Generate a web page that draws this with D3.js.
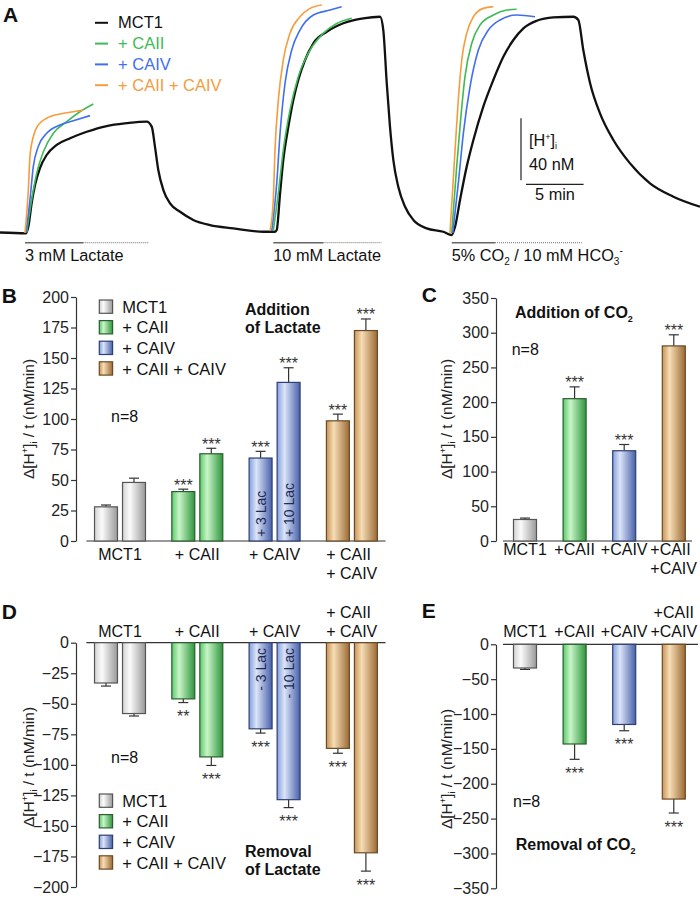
<!DOCTYPE html>
<html><head><meta charset="utf-8">
<script src="https://cdn.jsdelivr.net/npm/d3@7"></script>
<style>
body{margin:0;background:#fff}
svg{display:block;font-family:"Liberation Sans",Arial,sans-serif}
</style>
</head><body>
<svg id="c" width="700" height="900"></svg>
<script>
// ================= DATA =================
// Panel A traces: [time (min), Δ[H+]i (nM)]
const traceNames = ["MCT1", "+ CAII", "+ CAIV", "+ CAII + CAIV"];
const traceColors = ["#111111", "#3dbb55", "#3f6ef0", "#f59c3c"];
const traceMCT1 = [[0,0],[2.26,-0.5],[2.46,3.7],[2.75,19],[3.04,30.6],[3.47,41.6],[4.05,50],[4.92,56.5],[6.08,60.8],[7.53,65],[9.26,68.7],[11.0,70.5],[12.73,71.5],[13.17,68.3],[13.45,55.4],[13.74,40.3],[14.18,27.4],[14.76,18.8],[15.63,13.4],[16.78,8.1],[18.23,4.8],[20.25,2.7],[22.86,0.5],[23.87,0.5],[24.02,1.6],[24.31,25.3],[24.59,46.8],[25.03,68.3],[25.46,85.5],[25.89,98.4],[26.48,111.3],[27.2,122.1],[28.36,129.5],[29.8,135],[31.54,138.2],[32.99,139.2],[33.27,130.6],[33.57,96.3],[33.85,68.3],[34.14,46.8],[34.57,29.5],[35.16,16.6],[35.88,8.1],[37.04,2.7],[38.48,0.5],[39.21,-1.6],[39.5,3.7],[39.93,21],[40.51,42.5],[41.09,59.7],[41.95,81.2],[42.82,98.4],[43.69,113.4],[44.56,124.2],[45.43,131.7],[46.59,136.6],[48.03,138.8],[49.77,139.2],[50.2,137.1],[50.63,117.7],[51.22,96.3],[52.08,76.9],[53.24,59.7],[54.69,44.6],[56.42,31.7],[58.45,23.1],[60.76,16.6]];
const traceCAII = [
  [[2.32,0],[2.75,21],[3.19,38.2],[3.76,52.1],[4.63,64],[5.79,71.5],[6.94,77.9],[8.1,82.9]],
  [[23.72,1],[24.16,25.5],[24.59,53.2],[25.17,79],[25.89,100.5],[26.91,117.7],[28.06,128.5],[29.23,134.8],[30.53,138.2]],
  [[39.21,-0.3],[39.64,42.5],[39.93,68.3],[40.36,100.5],[40.95,122.1],[41.67,133.9],[42.82,140.3],[43.98,143.5],[44.85,144]]
];
const traceCAIV = [
  [[2.26,0],[2.6,21],[2.89,42.5],[3.32,55.4],[4.05,64],[5.21,69.4],[6.36,72.1],[7.81,75.4]],
  [[23.59,1],[24.02,31.7],[24.31,64],[24.74,96.3],[25.32,117.7],[26.04,130.6],[27.2,140.3],[28.65,143.5],[29.66,145.7]],
  [[39.3,-0.3],[39.78,31.7],[40.22,64],[40.8,94.1],[41.52,117.7],[42.39,130.6],[43.4,137.1],[44.85,140.3],[46.44,139.2]]
];
const traceCAIIIV = [
  [[2.17,-0.3],[2.46,27.4],[2.6,48.9],[2.89,61.8],[3.32,69.4],[4.05,73.7],[5.21,76.5],[6.36,77.9],[7.23,79]],
  [[23.44,1],[23.72,21],[23.87,53.2],[24.16,85.5],[24.59,111.3],[25.17,128.5],[26.04,139.2],[26.91,144.6],[27.93,146.8]],
  [[39.06,-0.3],[39.5,53.2],[39.78,85.5],[40.08,111.3],[40.51,128.5],[41.09,139.2],[41.95,144.6],[42.82,145.7]]
];
const stimLabels = ["3 mM Lactate", "10 mM Lactate", "5% CO2 / 10 mM HCO3-"];
const stimStart = [2.17, 23.72, 39.21];
const stimSolidEnd = [7.23, 28.07, 42.97];
const stimEnd = [12.87, 33.13, 50.5];
const scaleBarNM = 40, scaleBarMin = 5;

// Bar panels
const groups = ["MCT1", "+ CAII", "+ CAIV", "+ CAII + CAIV"];
const groupLabelsB = [["MCT1"], ["+ CAII"], ["+ CAIV"], ["+ CAII", "+ CAIV"]];
const groupLabelsC = [["MCT1"], ["+CAII"], ["+CAIV"], ["+CAII", "+CAIV"]];
const pulses = ["3 mM", "10 mM"];
// B: addition of lactate
const addLac3 = [28, 40.5, 68, 98.5];
const addLac3Err = [1.5, 2, 5.5, 5.5];
const addLac3Sig = ["", "***", "***", "***"];
const addLac10 = [48, 71.5, 130, 172.5];
const addLac10Err = [3.5, 4.5, 12, 9.5];
const addLac10Sig = ["", "***", "***", "***"];
// C: addition of CO2
const addCO2 = [31, 205, 130, 281];
const addCO2Err = [2, 17, 9, 16];
const addCO2Sig = ["", "***", "***", "***"];
// D: removal of lactate
const remLac3 = [-33, -46, -70.5, -86.5];
const remLac3Err = [2.5, 3, 3.5, 4];
const remLac3Sig = ["", "**", "***", "***"];
const remLac10 = [-58, -93.5, -128.5, -172];
const remLac10Err = [2, 7, 6.5, 15];
const remLac10Sig = ["", "***", "***", "***"];
// E: removal of CO2
const remCO2 = [-34, -143, -115, -222];
const remCO2Err = [2, 22, 9, 20];
const remCO2Sig = ["", "***", "***", "***"];

const ticksB = d3.range(0, 201, 25);
const ticksC = d3.range(0, 351, 50);
const ticksD = d3.range(-200, 1, 25);
const ticksE = d3.range(-350, 1, 50);

// ================= DRAW =================
const svg = d3.select("#c");
const FONT = 16;
const keys = ["grey", "green", "blue", "tan"];
const gradStops = {
  grey: ["#d2d2d2", "#fbfbfb", "#999999"],
  green: ["#5acb68", "#c9f4c9", "#2e963c"],
  blue: ["#86a0de", "#dbe4f8", "#4760a8"],
  tan: ["#c89456", "#f7ddb6", "#9a6a34"]
};
const strokeCol = {grey: "#555", green: "#2b5e30", blue: "#2f3f72", tan: "#6b4a25"};
const defs = svg.append("defs");
keys.forEach(k => {
  const lg = defs.append("linearGradient").attr("id", "g-" + k).attr("x1", 0).attr("x2", 1).attr("y1", 0).attr("y2", 0);
  [0, 0.32, 1].forEach((o, i) => lg.append("stop").attr("offset", o).attr("stop-color", gradStops[k][i]));
});

function panelLetter(t, x, y) {
  svg.append("text").attr("x", x).attr("y", y).attr("font-size", 21).attr("font-weight", "bold").attr("fill", "#111").text(t);
}

// ---------- Panel A ----------
const xA = d3.scaleLinear().domain([0, 60.76]).range([0, 700]);
const yA = d3.scaleLinear().domain([0, 40]).range([232.5, 170.5]);
const lineA = d3.line().x(d => xA(d[0])).y(d => yA(d[1])).curve(d3.curveMonotoneX);
const gA = svg.append("g");
gA.append("path").datum(traceMCT1).attr("d", lineA).attr("fill", "none").attr("stroke", traceColors[0]).attr("stroke-width", 2.3);
[[traceCAII, 1], [traceCAIV, 2], [traceCAIIIV, 3]].forEach(([segs, ci]) => {
  segs.forEach(s => gA.append("path").datum(s).attr("d", lineA).attr("fill", "none").attr("stroke", traceColors[ci]).attr("stroke-width", 1.6));
});
// legend A
traceNames.forEach((n, i) => {
  const y = 28.3 + i * 20.8;
  gA.append("line").attr("x1", 95).attr("x2", 108).attr("y1", y - 5.5).attr("y2", y - 5.5).attr("stroke", traceColors[i]).attr("stroke-width", 2);
  gA.append("text").attr("x", 118).attr("y", y).attr("font-size", 16.5).attr("fill", traceColors[i]).text(n);
});
// stimulus bars
stimLabels.forEach((lab, i) => {
  const yb = 242.7;
  gA.append("line").attr("x1", xA(stimStart[i])).attr("x2", xA(stimSolidEnd[i])).attr("y1", yb).attr("y2", yb).attr("stroke", "#666").attr("stroke-width", 1.6);
  gA.append("line").attr("x1", xA(stimSolidEnd[i])).attr("x2", xA(stimEnd[i])).attr("y1", yb).attr("y2", yb).attr("stroke", "#888").attr("stroke-width", 1.2).attr("stroke-dasharray", "1,1");
  const t = gA.append("text").attr("x", xA(stimStart[i])).attr("y", 260.5).attr("font-size", 16.3).attr("fill", "#111");
  if (lab.indexOf("CO2") >= 0) {
    t.append("tspan").text("5% CO");
    t.append("tspan").attr("font-size", 10).attr("dy", 4).text("2");
    t.append("tspan").attr("dy", -4).text(" / 10 mM HCO");
    t.append("tspan").attr("font-size", 10).attr("dy", 4).text("3");
    t.append("tspan").attr("font-size", 10).attr("dy", -11).text("-");
  } else t.text(lab);
});
// scale bar
{
  const top = 118.3;
  const len = yA(0) - yA(scaleBarNM);
  gA.append("line").attr("x1", 521).attr("x2", 521).attr("y1", top).attr("y2", top + len).attr("stroke", "#222").attr("stroke-width", 1.2);
  const hx = 526, hy = 184.3;
  gA.append("line").attr("x1", hx).attr("x2", hx + xA(scaleBarMin) - xA(0)).attr("y1", hy).attr("y2", hy).attr("stroke", "#222").attr("stroke-width", 1.2);
  const t1 = gA.append("text").attr("x", 529).attr("y", 146).attr("font-size", 16.3).attr("fill", "#111");
  t1.append("tspan").text("[H");
  t1.append("tspan").attr("font-size", 9).attr("dy", -6).text("+");
  t1.append("tspan").attr("dy", 6).text("]");
  t1.append("tspan").attr("font-size", 9).attr("dy", 3).text("i");
  gA.append("text").attr("x", 529).attr("y", 170).attr("font-size", 16.3).attr("fill", "#111").text(scaleBarNM + " nM");
  gA.append("text").attr("x", 555).attr("y", 200).attr("font-size", 16.3).attr("text-anchor", "middle").attr("fill", "#111").text(scaleBarMin + " min");
}
panelLetter("A", 3, 21.7);

// ---------- helpers for bar panels ----------
function yTitle(g, x, y) {
  const t = g.append("text").attr("transform", `translate(${x},${y}) rotate(-90)`).attr("text-anchor", "middle").attr("font-size", 15.5).attr("fill", "#222");
  t.append("tspan").text("Δ[H");
  t.append("tspan").attr("font-size", 9).attr("dy", -6).text("+");
  t.append("tspan").attr("dy", 6).text("]");
  t.append("tspan").attr("font-size", 9).attr("dy", 3).text("i");
  t.append("tspan").attr("dy", -3).text(" / t (nM/min)");
}
function yAxis(g, x, y, ticks) {
  const ax = g.append("g").attr("transform", `translate(${x},0)`)
    .call(d3.axisLeft(y).tickValues(ticks).tickSize(5).tickSizeOuter(0).tickPadding(2).tickFormat(d3.format("d")));
  ax.select(".domain").attr("stroke", "#333").attr("stroke-width", 1.2);
  ax.selectAll(".tick line").attr("stroke", "#333").attr("stroke-width", 1.2);
  ax.selectAll(".tick text").attr("font-size", FONT).attr("fill", "#222").attr("font-family", '"Liberation Sans",Arial,sans-serif');
}
function drawBar(g, x, w, y, v, e, key, sig) {
  const y0 = y(0), yv = y(v);
  const ye = y(v + Math.sign(v) * e);
  const cx = x + w / 2;
  g.append("line").attr("x1", cx).attr("x2", cx).attr("y1", yv).attr("y2", ye).attr("stroke", "#333").attr("stroke-width", 1.2);
  g.append("line").attr("x1", cx - 5).attr("x2", cx + 5).attr("y1", ye).attr("y2", ye).attr("stroke", "#333").attr("stroke-width", 1.2);
  g.append("rect").attr("x", x).attr("y", Math.min(y0, yv)).attr("width", w).attr("height", Math.abs(yv - y0))
    .attr("fill", `url(#g-${key})`).attr("stroke", strokeCol[key]).attr("stroke-width", 1.2);
  if (sig) {
    g.append("text").attr("x", cx).attr("y", v > 0 ? ye + 1.5 : ye + 19.5).attr("text-anchor", "middle")
      .attr("font-size", 16).attr("fill", "#333").text(sig);
  }
}
function groupLabel(g, cx, yBase, lines, leftAlign) {
  const t = g.append("text").attr("font-size", FONT).attr("fill", "#111");
  lines.forEach((l, i) => t.append("tspan").attr("x", cx).attr("y", yBase + i * 19).text(l));
  if (leftAlign && lines.length > 1) {
    const w = t.node().getBBox().width;
    t.selectAll("tspan").attr("x", cx - w / 2);
  } else {
    t.attr("text-anchor", "middle");
  }
}
function legendBox(g, x, yTop) {
  groups.forEach((n, i) => {
    const y = yTop + i * 20.6;
    g.append("rect").attr("x", x).attr("y", y).attr("width", 13.3).attr("height", 13.3)
      .attr("fill", `url(#g-${keys[i]})`).attr("stroke", strokeCol[keys[i]]).attr("stroke-width", 1.2);
    g.append("text").attr("x", x + 23).attr("y", y + 12.7).attr("font-size", 16.5).attr("fill", "#111").text(n);
  });
}
function boldLines(g, x, y, lines, sub) {
  lines.forEach((l, i) => {
    const t = g.append("text").attr("x", x).attr("y", y + i * 18.3).attr("font-size", 16).attr("font-weight", "bold").attr("fill", "#111");
    if (sub && i === lines.length - 1) {
      t.append("tspan").text(l);
      t.append("tspan").attr("font-size", 9).attr("dy", 4).text(sub);
    } else t.text(l);
  });
}
function innerLabel(g, cx, y, txt, anchor) {
  g.append("text").attr("transform", `translate(${cx + 5},${y}) rotate(-90)`).attr("text-anchor", anchor)
    .attr("font-size", 14).attr("fill", "#1c2a55").text(txt);
}

// ---------- Panel B ----------
const xG = d3.scaleBand().domain(groups).range([81.35, 390.55]);
const xS = d3.scaleBand().domain(pulses).range([0, xG.bandwidth()]).paddingInner(0.18).paddingOuter(0.47);
const yB = d3.scaleLinear().domain([0, 200]).range([541, 297]);
const gB = svg.append("g");
yAxis(gB, 76, yB, ticksB);
gB.append("line").attr("x1", xG.range()[0] + 5).attr("x2", xG.range()[1] - 5).attr("y1", yB(0)).attr("y2", yB(0)).attr("stroke", "#333").attr("stroke-width", 1.2);
groups.forEach((grp, i) => {
  drawBar(gB, xG(grp) + xS(pulses[0]), xS.bandwidth(), yB, addLac3[i], addLac3Err[i], keys[i], addLac3Sig[i]);
  drawBar(gB, xG(grp) + xS(pulses[1]), xS.bandwidth(), yB, addLac10[i], addLac10Err[i], keys[i], addLac10Sig[i]);
  groupLabel(gB, xG(grp) + xG.bandwidth() / 2, 560, groupLabelsB[i], true);
});
innerLabel(gB, xG(groups[2]) + xS(pulses[0]) + xS.bandwidth() / 2, 537, "+ 3 Lac", "start");
innerLabel(gB, xG(groups[2]) + xS(pulses[1]) + xS.bandwidth() / 2, 537, "+ 10 Lac", "start");
legendBox(gB, 99.3, 300);
boldLines(gB, 245, 315, ["Addition", "of Lactate"]);
gB.append("text").attr("x", 111).attr("y", 421.7).attr("font-size", FONT).attr("fill", "#111").text("n=8");
yTitle(gB, 34, 419);
panelLetter("B", 1.7, 303);

// ---------- Panel C ----------
const xC = d3.scaleBand().domain(groups).range([500.2, 698.6]).paddingInner(0.536).paddingOuter(0.268);
const yC = d3.scaleLinear().domain([0, 350]).range([541, 298]);
const gC = svg.append("g");
yAxis(gC, 496, yC, ticksC);
gC.append("line").attr("x1", 503).attr("x2", 692).attr("y1", yC(0)).attr("y2", yC(0)).attr("stroke", "#333").attr("stroke-width", 1.2);
groups.forEach((grp, i) => {
  drawBar(gC, xC(grp), xC.bandwidth(), yC, addCO2[i], addCO2Err[i], keys[i], addCO2Sig[i]);
  groupLabel(gC, xC(grp) + xC.bandwidth() / 2, 555, groupLabelsC[i], true);
});
boldLines(gC, 515, 318, ["Addition of CO"], "2");
gC.append("text").attr("x", 511.7).attr("y", 355).attr("font-size", FONT).attr("fill", "#111").text("n=8");
yTitle(gC, 452, 419);
panelLetter("C", 421.7, 302);

// ---------- Panel D ----------
const yD = d3.scaleLinear().domain([-200, 0]).range([887, 642.7]);
const gD = svg.append("g");
yAxis(gD, 76, yD, ticksD);
gD.append("line").attr("x1", xG.range()[0] + 5).attr("x2", xG.range()[1] - 5).attr("y1", yD(0)).attr("y2", yD(0)).attr("stroke", "#333").attr("stroke-width", 1.2);
groups.forEach((grp, i) => {
  drawBar(gD, xG(grp) + xS(pulses[0]), xS.bandwidth(), yD, remLac3[i], remLac3Err[i], keys[i], remLac3Sig[i]);
  drawBar(gD, xG(grp) + xS(pulses[1]), xS.bandwidth(), yD, remLac10[i], remLac10Err[i], keys[i], remLac10Sig[i]);
  const lines = groupLabelsB[i];
  groupLabel(gD, xG(grp) + xG.bandwidth() / 2, 637 - (lines.length - 1) * 19, lines, true);
});
innerLabel(gD, xG(groups[2]) + xS(pulses[0]) + xS.bandwidth() / 2, 648, "- 3 Lac", "end");
innerLabel(gD, xG(groups[2]) + xS(pulses[1]) + xS.bandwidth() / 2, 648, "- 10 Lac", "end");
legendBox(gD, 99.3, 794);
boldLines(gD, 245, 856.7, ["Removal", "of Lactate"]);
gD.append("text").attr("x", 111).attr("y", 763).attr("font-size", FONT).attr("fill", "#111").text("n=8");
yTitle(gD, 34, 767);
panelLetter("D", 1.7, 619);

// ---------- Panel E ----------
const yE = d3.scaleLinear().domain([-350, 0]).range([888.3, 644.3]);
const gE = svg.append("g");
yAxis(gE, 496, yE, ticksE);
gE.append("line").attr("x1", 503).attr("x2", 698).attr("y1", yE(0)).attr("y2", yE(0)).attr("stroke", "#333").attr("stroke-width", 1.2);
groups.forEach((grp, i) => {
  drawBar(gE, xC(grp), xC.bandwidth(), yE, remCO2[i], remCO2Err[i], keys[i], remCO2Sig[i]);
  const lines = groupLabelsC[i];
  groupLabel(gE, xC(grp) + xC.bandwidth() / 2, 637 - (lines.length - 1) * 19, lines, false);
});
boldLines(gE, 515.7, 850, ["Removal of CO"], "2");
gE.append("text").attr("x", 513).attr("y", 807).attr("font-size", FONT).attr("fill", "#111").text("n=8");
yTitle(gE, 452, 769);
panelLetter("E", 421.7, 618);
</script>
</body></html>
